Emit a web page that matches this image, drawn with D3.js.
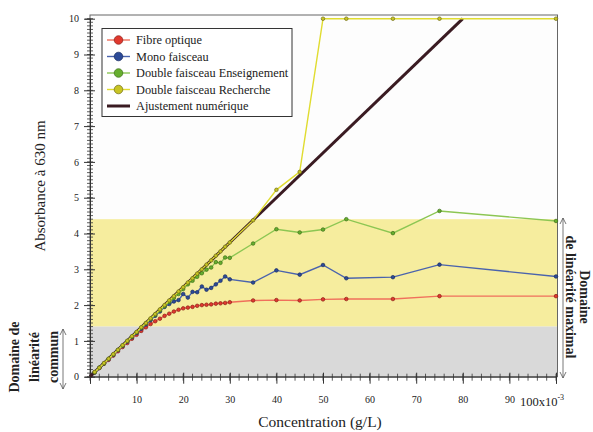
<!DOCTYPE html>
<html>
<head>
<meta charset="utf-8">
<script src="https://cdn.jsdelivr.net/npm/d3@7"></script>
<style>
  body { margin: 0; background: #fff; }
  svg text { font-family: "Liberation Serif", "DejaVu Serif", serif; fill: #222; }
</style>
</head>
<body>
<script>
'use strict';

// concentration (x10^-3 g/L)
const concentrations = [1, 2, 3, 4, 5, 6, 7, 8, 9, 10, 11, 12, 13, 14, 15, 16, 17, 18, 19, 20,
  21, 22, 23, 24, 25, 26, 27, 28, 29, 30, 35, 40, 45, 50, 55, 65, 75, 100];

const fibreOptique = [0.12, 0.24, 0.36, 0.47, 0.59, 0.71, 0.83, 0.94, 1.06, 1.17, 1.28, 1.38, 1.47, 1.55, 1.62,
  1.70, 1.76, 1.82, 1.87, 1.91, 1.93, 1.95, 1.98, 2.00, 2.01, 2.02, 2.04, 2.05, 2.06, 2.08,
  2.13, 2.14, 2.13, 2.16, 2.17, 2.17, 2.25, 2.25];

const monoFaisceau = [0.12, 0.25, 0.37, 0.49, 0.61, 0.74, 0.86, 0.98, 1.10, 1.22, 1.34, 1.46, 1.58, 1.70, 1.82,
  1.95, 2.03, 2.10, 2.14, 2.31, 2.21, 2.37, 2.36, 2.52, 2.43, 2.48, 2.58, 2.68, 2.80, 2.72,
  2.63, 2.97, 2.85, 3.12, 2.75, 2.78, 3.13, 2.80];

const doubleEnseignement = [0.12, 0.25, 0.37, 0.50, 0.62, 0.75, 0.87, 1.00, 1.12, 1.24, 1.37, 1.49, 1.61, 1.73, 1.85,
  1.97, 2.09, 2.20, 2.31, 2.45, 2.58, 2.68, 2.79, 2.89, 2.99, 3.05, 3.20, 3.18, 3.33, 3.32,
  3.72, 4.12, 4.03, 4.11, 4.40, 4.01, 4.63, 4.35];

const doubleRecherche = [0.13, 0.25, 0.38, 0.50, 0.63, 0.75, 0.88, 1.00, 1.13, 1.25, 1.38, 1.50, 1.63, 1.75, 1.88,
  2.00, 2.13, 2.25, 2.38, 2.50, 2.63, 2.75, 2.88, 3.00, 3.13, 3.25, 3.38, 3.50, 3.63, 3.75,
  4.37, 5.22, 5.72, 10, 10, 10, 10, 10];

const fitX = [0, 80];
const fitY = [0, 10];

// bands of absorbance
const communBand = [0, 1.4];
const maximalBand = [1.4, 4.4];

const xTickLabels = [10, 20, 30, 40, 50, 60, 70, 80, 90];
const yTickLabels = [0, 1, 2, 3, 4, 5, 6, 7, 8, 9, 10];

const seriesNames = ['Fibre optique', 'Mono faisceau', 'Double faisceau Enseignement', 'Double faisceau Recherche'];

(function() {
  let svgContainer = '';
  const serif = '"Liberation Serif", "DejaVu Serif", serif';

  const series = [
    { name: seriesNames[0], values: fibreOptique, line: '#f0705c', fill: '#e0382e', stroke: '#8a1f18' },
    { name: seriesNames[1], values: monoFaisceau, line: '#4a63ad', fill: '#2c4a98', stroke: '#1a2c60' },
    { name: seriesNames[2], values: doubleEnseignement, line: '#8cc653', fill: '#66ae2e', stroke: '#3c6e18' },
    { name: seriesNames[3], values: doubleRecherche, line: '#e0dc30', fill: '#c8c424', stroke: '#6e6c14' }
  ];

  window.onload = function() {
    svgContainer = d3.select('body')
      .append('svg')
      .attr('width', 593)
      .attr('height', 432);
    makePlot();
  };

  function makePlot() {
    let xScale = d3.scaleLinear().domain([0, 100]).range([90, 556]);
    let yScale = d3.scaleLinear().domain([0, 10]).range([376.7, 18.7]);

    drawBands(xScale, yScale);
    drawAxes(xScale, yScale);
    plotSeries(xScale, yScale);
    drawLegend();
    makeLabels();
  }

  function drawBands(xScale, yScale) {
    let right = 557.5;
    svgContainer.append('rect')
      .attr('x', xScale(0))
      .attr('y', 15)
      .attr('width', right - xScale(0))
      .attr('height', yScale(0) - 15)
      .attr('fill', '#fdfdfd');

    svgContainer.append('rect')
      .attr('x', xScale(0))
      .attr('y', yScale(maximalBand[1]))
      .attr('width', right - xScale(0))
      .attr('height', yScale(maximalBand[0]) - yScale(maximalBand[1]))
      .attr('fill', '#f6ed9e');

    svgContainer.append('rect')
      .attr('x', xScale(0))
      .attr('y', yScale(communBand[1]))
      .attr('width', right - xScale(0))
      .attr('height', yScale(communBand[0]) - yScale(communBand[1]))
      .attr('fill', '#d9d9d9');

    // frame
    svgContainer.append('rect')
      .attr('x', xScale(0))
      .attr('y', 15)
      .attr('width', right - xScale(0))
      .attr('height', yScale(0) - 15)
      .attr('fill', 'none')
      .attr('stroke', '#666')
      .attr('stroke-width', 1);
  }

  function drawAxes(xScale, yScale) {
    let x0 = xScale(0);
    let y0 = yScale(0);

    // y minor ticks every 0.1
    let yMinor = d3.range(0, 10.01, 0.1);
    svgContainer.append('g').selectAll('line')
      .data(yMinor)
      .enter()
      .append('line')
        .attr('x1', x0 - 3)
        .attr('x2', x0 + 3)
        .attr('y1', (d) => yScale(d))
        .attr('y2', (d) => yScale(d))
        .attr('stroke', '#333')
        .attr('stroke-width', 0.8);

    let yAxis = d3.axisLeft(yScale)
      .tickValues(yTickLabels)
      .tickSize(5)
      .tickPadding(6)
      .tickFormat(d3.format('d'));
    let gy = svgContainer.append('g')
      .attr('transform', 'translate(' + x0 + ', 0)')
      .attr('font-family', serif)
      .attr('font-size', 12.5)
      .call(yAxis);
    gy.select('.domain').attr('stroke', '#333');
    gy.selectAll('.tick line').attr('x2', -6).attr('x1', 5).attr('stroke', '#333');
    gy.selectAll('.tick text')
      .attr('font-family', serif)
      .attr('fill', '#222');

    // x minor ticks every 2
    let xMinor = d3.range(0, 100.01, 2);
    svgContainer.append('g').selectAll('line')
      .data(xMinor)
      .enter()
      .append('line')
        .attr('x1', (d) => xScale(d))
        .attr('x2', (d) => xScale(d))
        .attr('y1', y0 - 3)
        .attr('y2', y0 + 4)
        .attr('stroke', '#333')
        .attr('stroke-width', 0.8);

    let xAxis = d3.axisBottom(xScale)
      .tickValues(d3.range(0, 101, 10))
      .tickSize(7)
      .tickPadding(12)
      .tickFormat((d) => xTickLabels.includes(d) ? d : '');
    let gx = svgContainer.append('g')
      .attr('transform', 'translate(0, ' + y0 + ')')
      .attr('font-family', serif)
      .attr('font-size', 12.5)
      .call(xAxis);
    gx.select('.domain').attr('stroke', '#333');
    gx.selectAll('.tick line').attr('y1', -4).attr('stroke', '#333');
    gx.selectAll('.tick text')
      .attr('font-family', serif)
      .attr('fill', '#222');

    let last = svgContainer.append('text')
      .attr('x', xScale(100) - 14)
      .attr('y', y0 + 29)
      .attr('text-anchor', 'middle')
      .attr('font-family', serif)
      .attr('font-size', 12.5);
    last.append('tspan').text('100x10');
    last.append('tspan').attr('dy', -6).attr('font-size', 8).text('-3');
  }

  function plotSeries(xScale, yScale) {
    let line = d3.line()
      .x((d) => xScale(d[0]))
      .y((d) => yScale(d[1]));

    svgContainer.append('path')
      .attr('d', line(d3.zip(fitX, fitY)))
      .attr('fill', 'none')
      .attr('stroke', '#3a1b22')
      .attr('stroke-width', 3);

    series.forEach((s) => {
      let pts = d3.zip(concentrations, s.values);
      svgContainer.append('path')
        .attr('d', line(pts))
        .attr('fill', 'none')
        .attr('stroke', s.line)
        .attr('stroke-width', 1.4);

      svgContainer.append('g').selectAll('circle')
        .data(pts)
        .enter()
        .append('circle')
          .attr('cx', (d) => xScale(d[0]))
          .attr('cy', (d) => yScale(d[1]))
          .attr('r', 1.8)
          .attr('fill', s.fill)
          .attr('stroke', s.stroke)
          .attr('stroke-width', 0.7);
    });
  }

  function drawLegend() {
    let lx = 102, ly = 28.5;
    svgContainer.append('rect')
      .attr('x', lx)
      .attr('y', ly)
      .attr('width', 190)
      .attr('height', 88)
      .attr('fill', '#fff')
      .attr('stroke', '#333')
      .attr('stroke-width', 1);

    let rows = series.concat([{ name: 'Ajustement numérique', line: '#3a1b22', fit: true }]);
    rows.forEach((s, i) => {
      let cy = 40 + i * 16.5;
      svgContainer.append('line')
        .attr('x1', 107)
        .attr('x2', 130)
        .attr('y1', cy)
        .attr('y2', cy)
        .attr('stroke', s.line)
        .attr('stroke-width', s.fit ? 3 : 1.4);
      if (!s.fit) {
        svgContainer.append('circle')
          .attr('cx', 118.5)
          .attr('cy', cy)
          .attr('r', 4.3)
          .attr('fill', s.fill)
          .attr('stroke', s.stroke)
          .attr('stroke-width', 0.7);
      }
      svgContainer.append('text')
        .attr('x', 136)
        .attr('y', cy + 4)
        .attr('font-family', serif)
        .attr('font-size', 12.3)
        .text(s.name);
    });
  }

  function arrow(x, yTop, yBottom) {
    let g = svgContainer.append('g')
      .attr('stroke', '#555')
      .attr('stroke-width', 0.8)
      .attr('fill', 'none');
    g.append('line').attr('x1', x).attr('x2', x).attr('y1', yTop).attr('y2', yBottom);
    g.append('path').attr('d', 'M' + (x - 3) + ',' + (yTop + 6) + 'L' + x + ',' + yTop + 'L' + (x + 3) + ',' + (yTop + 6));
    g.append('path').attr('d', 'M' + (x - 3) + ',' + (yBottom - 6) + 'L' + x + ',' + yBottom + 'L' + (x + 3) + ',' + (yBottom - 6));
  }

  function makeLabels() {
    svgContainer.append('text')
      .attr('x', 320)
      .attr('y', 427)
      .attr('text-anchor', 'middle')
      .attr('font-family', serif)
      .attr('font-size', 15.5)
      .text('Concentration (g/L)');

    svgContainer.append('text')
      .attr('transform', 'translate(45, 186)rotate(-90)')
      .attr('text-anchor', 'middle')
      .attr('font-family', serif)
      .attr('font-size', 15)
      .text('Absorbance à 630 nm');

    // left annotation
    let leftLines = [['Domaine de', 19], ['linéarité', 39], ['commun', 58]];
    leftLines.forEach((l) => {
      svgContainer.append('text')
        .attr('transform', 'translate(' + l[1] + ', 357)rotate(-90)')
        .attr('text-anchor', 'middle')
        .attr('font-family', serif)
        .attr('font-size', 14)
        .attr('font-weight', 'bold')
        .text(l[0]);
    });
    arrow(63, 329, 389);

    // right annotation
    let rightLines = [['Domaine', 580], ['de linéarité maximal', 566]];
    rightLines.forEach((l) => {
      svgContainer.append('text')
        .attr('transform', 'translate(' + l[1] + ', 297)rotate(90)')
        .attr('text-anchor', 'middle')
        .attr('font-family', serif)
        .attr('font-size', 14)
        .attr('font-weight', 'bold')
        .text(l[0]);
    });
    arrow(563, 218, 378);
  }
})();
</script>
</body>
</html>
